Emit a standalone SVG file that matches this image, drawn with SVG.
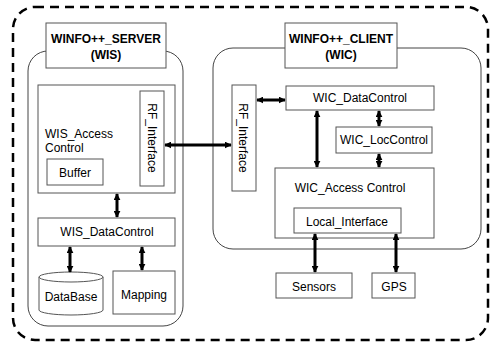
<svg xmlns="http://www.w3.org/2000/svg" width="492" height="342" viewBox="0 0 492 342">
<style>
.box{fill:#fff;stroke:#555;stroke-width:1}
.grp{fill:#fff;stroke:#444;stroke-width:1}
.t{font-family:"Liberation Sans",Arial,sans-serif;font-size:12px;fill:#000;text-anchor:middle}
.tl{font-family:"Liberation Sans",Arial,sans-serif;font-size:12px;fill:#000}
.b{font-weight:bold}
.arr{stroke:#000;stroke-width:3;fill:none;marker-start:url(#h);marker-end:url(#h)}
</style>
<defs>
<marker id="h" viewBox="0 0 10 10" refX="9" refY="5" markerWidth="7" markerHeight="7" markerUnits="userSpaceOnUse" orient="auto-start-reverse">
<path d="M0,0 L10,5 L0,10 z" fill="#000"/>
</marker>
</defs>
<rect x="13" y="7" width="475" height="333" rx="22" fill="none" stroke="#000" stroke-width="2.5" stroke-dasharray="9,6"/>

<g id="server">
<rect class="grp" x="28" y="51" width="155" height="275" rx="20"/>
<rect class="box" x="46" y="23" width="120" height="45"/>
<text class="t b" x="106" y="43">WINFO++_SERVER</text>
<text class="t b" x="106" y="59">(WIS)</text>
</g>
<g id="wis_access">
<rect class="box" x="38" y="85" width="137" height="108"/>
<text class="tl" x="45" y="138">WIS_Access</text>
<text class="tl" x="45" y="152">Control</text>
</g>
<g id="wis_buffer">
<rect class="box" x="47" y="159" width="56" height="26"/>
<text class="t" x="75" y="177">Buffer</text>
</g>
<g id="wis_rf">
<rect class="box" x="140" y="91" width="24" height="95"/>
<text class="t" transform="translate(148,138) rotate(90)">RF_Interface</text>
</g>
<g id="wis_datacontrol">
<rect class="box" x="38" y="218" width="137" height="28"/>
<text class="t" x="107" y="236">WIS_DataControl</text>
</g>
<g id="database">
<path class="box" d="M39,277 L39,310 A32,5 0 0 0 103,310 L103,277"/>
<ellipse class="box" cx="71" cy="277" rx="32" ry="5"/>
<text class="t" x="71" y="301">DataBase</text>
</g>
<g id="mapping">
<rect class="box" x="113" y="271" width="62" height="43"/>
<text class="t" x="144" y="299">Mapping</text>
</g>

<g id="client">
<rect class="grp" x="213" y="48" width="268" height="201" rx="20"/>
<rect class="box" x="285" y="23" width="112" height="45"/>
<text class="t b" x="341" y="43">WINFO++_CLIENT</text>
<text class="t b" x="341" y="59">(WIC)</text>
</g>
<g id="wic_rf">
<rect class="box" x="232" y="85" width="24" height="106"/>
<text class="t" transform="translate(239,138) rotate(90)">RF_Interface</text>
</g>
<g id="wic_datacontrol">
<rect class="box" x="286" y="86" width="148" height="24"/>
<text class="t" x="360" y="102">WIC_DataControl</text>
</g>
<g id="wic_loccontrol">
<rect class="box" x="336" y="127" width="96" height="26"/>
<text class="t" x="384" y="144">WIC_LocControl</text>
</g>
<g id="wic_access">
<rect class="box" x="275" y="168" width="159" height="70"/>
<text class="t" x="350" y="192">WIC_Access Control</text>
</g>
<g id="local_interface">
<rect class="box" x="294" y="208" width="107" height="25"/>
<text class="t" x="347" y="226">Local_Interface</text>
</g>
<g id="sensors">
<rect class="box" x="276" y="273" width="76" height="25"/>
<text class="t" x="314" y="291">Sensors</text>
</g>
<g id="gps">
<rect class="box" x="372" y="273" width="43" height="25"/>
<text class="t" x="394" y="291">GPS</text>
</g>

<g id="connectors">
<line class="arr" x1="165" y1="145" x2="231" y2="145"/>
<line class="arr" x1="117" y1="194" x2="117" y2="217"/>
<line class="arr" x1="70" y1="247" x2="70" y2="272"/>
<line class="arr" x1="142" y1="247" x2="142" y2="270"/>
<line class="arr" x1="257" y1="100" x2="285" y2="100"/>
<line class="arr" x1="317" y1="111" x2="317" y2="167"/>
<line class="arr" x1="379" y1="111" x2="379" y2="126"/>
<line class="arr" x1="379" y1="154" x2="379" y2="167"/>
<line class="arr" x1="315" y1="234" x2="315" y2="272"/>
<line class="arr" x1="396" y1="234" x2="396" y2="272"/>
</g>
</svg>
